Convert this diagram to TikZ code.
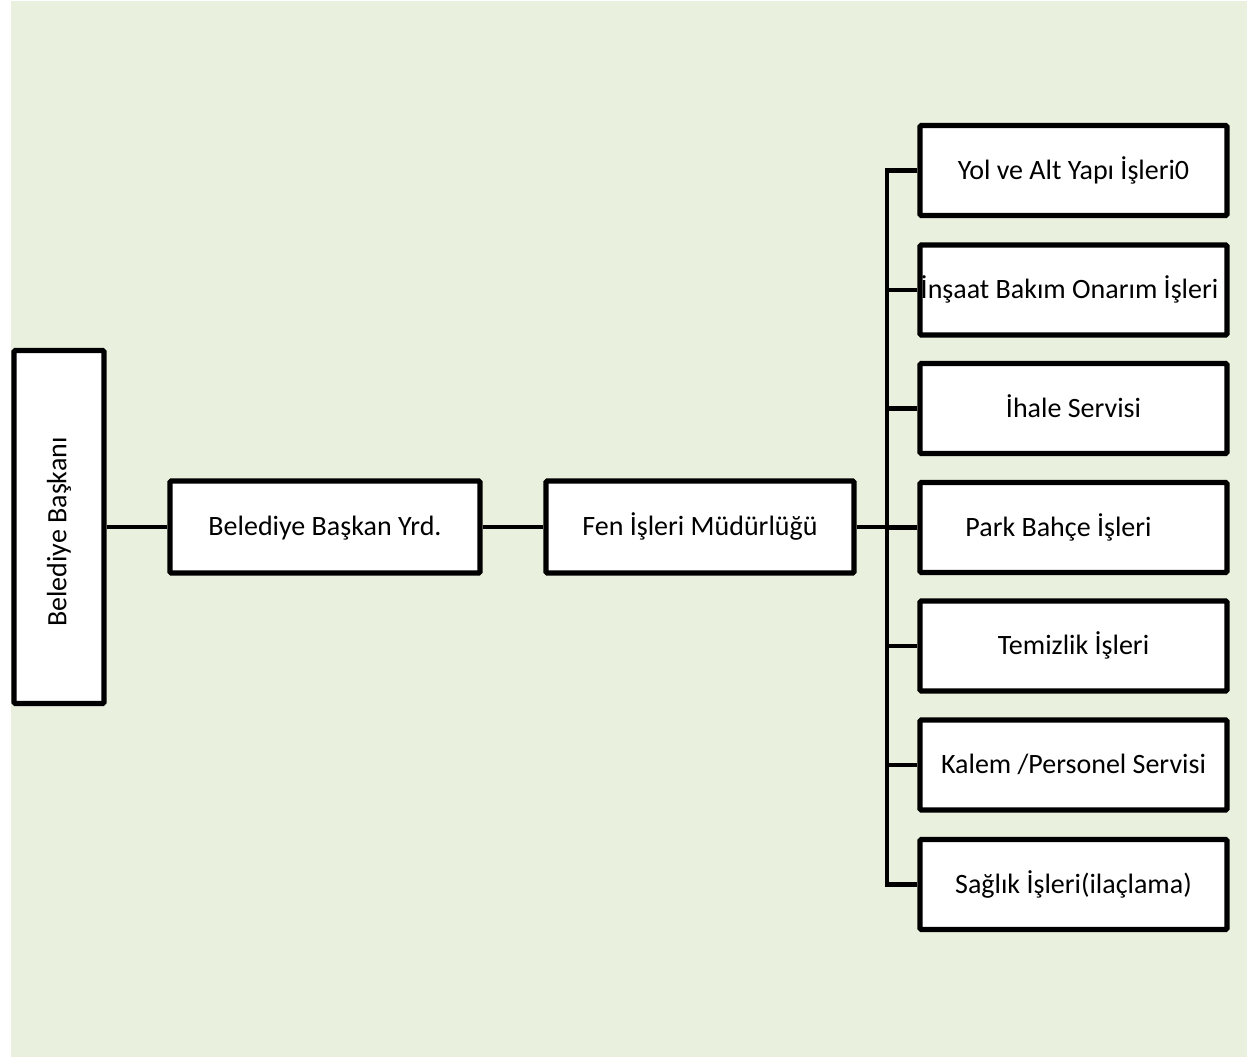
\documentclass[tikz,border=0pt]{standalone}
\usepackage{fontspec}
\setmainfont{Carlito}
\usepackage{graphicx}
\definecolor{bggreen}{RGB}{233,240,221}
\begin{document}
\begin{tikzpicture}[x=1pt,y=-1pt,
  box/.style={draw=black,fill=white,line width=5.4pt,rounded corners=1.5pt,
    minimum width=307pt,minimum height=90pt,inner sep=0pt,
    text height=21pt,text depth=4pt,
    font=\fontsize{28}{33}\selectfont},
  conn/.style={draw=black,line width=4.6pt}]
\useasboundingbox (0,0) rectangle (1247,1057);
\fill[bggreen] (11,1) rectangle (1247,1057);
% main chain
\node[box,minimum width=90pt,minimum height=353pt,text height=,text depth=] (bb) at (59,527)
  {\rotatebox{90}{Belediye Başkanı\hspace*{10pt}}};
\node[box,minimum width=310pt,minimum height=92pt] (yrd) at (325,527) {Belediye Başkan Yrd.};
\node[box,minimum width=308pt,minimum height=92pt] (fen) at (700,527) {Fen İşleri Müdürlüğü};
% right column
\node[box] (yol) at (1073.5,170.5) {Yol ve Alt Yapı İşleri0};
\node[box] (ins) at (1073.5,290) {İnşaat Bakım Onarım İşleri\hspace*{8pt}};
\node[box] (iha) at (1073.5,408.5) {İhale Servisi};
\node[box] (park) at (1073.5,527.5) {Park Bahçe İşleri\hspace*{30pt}};
\node[box] (tem) at (1073.5,646) {Temizlik İşleri};
\node[box] (kal) at (1073.5,765) {Kalem /Personel Servisi};
\node[box] (sag) at (1073.5,884.5) {Sağlık İşleri(ilaçlama)};
\coordinate (bus) at (887,527);
% connectors
\draw[conn] (bb.east) -- (yrd.west);
\draw[conn] (yrd.east) -- (fen.west);
\draw[conn] (fen.east) -- (fen.east -| bus);
\draw[conn,line join=miter] (yol.west) -- (yol.west -| bus) -- (sag.west -| bus) -- (sag.west);
\foreach \n in {ins,iha,park,tem,kal}
  \draw[conn] (\n.west -| bus) -- (\n.west);
\end{tikzpicture}
\end{document}
